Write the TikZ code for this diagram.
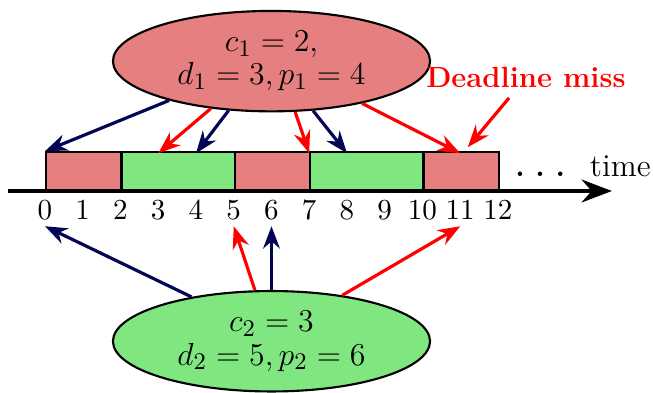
\documentclass[tikz,border=0pt]{standalone}
\usepackage{tikz}
\usetikzlibrary{arrows.meta,shapes.geometric}

\definecolor{jobred}{RGB}{230,128,128}
\definecolor{jobgreen}{RGB}{128,230,128}
\definecolor{darknavy}{RGB}{5,5,85}

\begin{document}
\begin{tikzpicture}[>=Stealth, thick,
	task node/.style={ellipse, draw, minimum width=4.2cm, minimum height=1.33cm, inner sep=0pt, align=center, font=\fontsize{12.5}{12.5}\selectfont},
	slot/.style={draw, minimum height=0.5cm, inner sep=0pt, anchor=south west},
	tick/.style={anchor=north, inner sep=2pt, font=\fontsize{11}{13}\selectfont},
	hit/.style={->, very thick, darknavy},
	miss/.style={->, very thick, red}]
	\useasboundingbox (-0.596,-2.675) rectangle (8.053,2.530);

	% Schedule on the time line
	\node[slot, fill=jobred, minimum width=1.0cm] (b1) at (0,0) {};
	\node[slot, fill=jobgreen, minimum width=1.5cm] (b2) at (1,0) {};
	\node[slot, fill=jobred, minimum width=1.0cm] (b3) at (2.5,0) {};
	\node[slot, fill=jobgreen, minimum width=1.5cm] (b4) at (3.5,0) {};
	\node[slot, fill=jobred, minimum width=1.0cm] (b5) at (5,0) {};

	% Time axis
	\draw[line width=1.8pt, -{Stealth[length=4mm, width=3mm]}] (-0.49,0) -- (7.51,0);
	\node (dots) at (6.56,0.22) {\LARGE$\dots$};
	\node (time) at (7.62,0.33) {\large time};

	% Tick labels
	\node[tick] (t0) at (0,-0.05) {$0$};
	\node[tick] (t1) at (0.5,-0.05) {$1$};
	\node[tick] (t2) at (1,-0.05) {$2$};
	\node[tick] (t3) at (1.5,-0.05) {$3$};
	\node[tick] (t4) at (2,-0.05) {$4$};
	\node[tick] (t5) at (2.5,-0.05) {$5$};
	\node[tick] (t6) at (3,-0.05) {$6$};
	\node[tick] (t7) at (3.5,-0.05) {$7$};
	\node[tick] (t8) at (4,-0.05) {$8$};
	\node[tick] (t9) at (4.5,-0.05) {$9$};
	\node[tick] (t10) at (5,-0.05) {$10$};
	\node[tick] (t11) at (5.5,-0.05) {$11$};
	\node[tick] (t12) at (6,-0.05) {$12$};

	% Tasks
	\node[task node, fill=jobred] (task1) at (3,1.72) {$c_1 = 2,$\\$d_1 = 3, p_1 = 4$};
	\node[task node, fill=jobgreen] (task2) at (3,-1.99) {$c_2 = 3$\\$d_2 = 5, p_2 = 6$};
	\node[font=\fontsize{11}{13}\selectfont\bfseries, text=red] (late) at (6.37,1.50) {Deadline miss};

	% Releases and deadlines of task 1
	\coordinate (r3) at (1.5,0.5);
	\coordinate (r4) at (2,0.5);
	\coordinate (r7) at (3.5,0.5);
	\coordinate (r8) at (4,0.5);
	\coordinate (r11) at (5.5,0.5);
	\coordinate (miss11) at (5.6,0.58);
	\draw[hit] (task1.201) -- (b1.north west);
	\draw[miss] (task1.218) -- (r3);
	\draw[hit] (task1.229) -- (r4);
	\draw[miss] (task1.295) -- (r7);
	\draw[hit] (task1.310) -- (r8);
	\draw[miss] (task1.335) -- (r11);
	\draw[miss] (late) -- (miss11);

	% Releases and deadlines of task 2
	\draw[hit] (task2.151) -- (t0.south);
	\draw[miss] (task2.108) -- (t5.south);
	\draw[hit] (task2.90) -- (t6.south);
	\draw[miss] (task2.33) -- (t11.south);
\end{tikzpicture}
\end{document}
